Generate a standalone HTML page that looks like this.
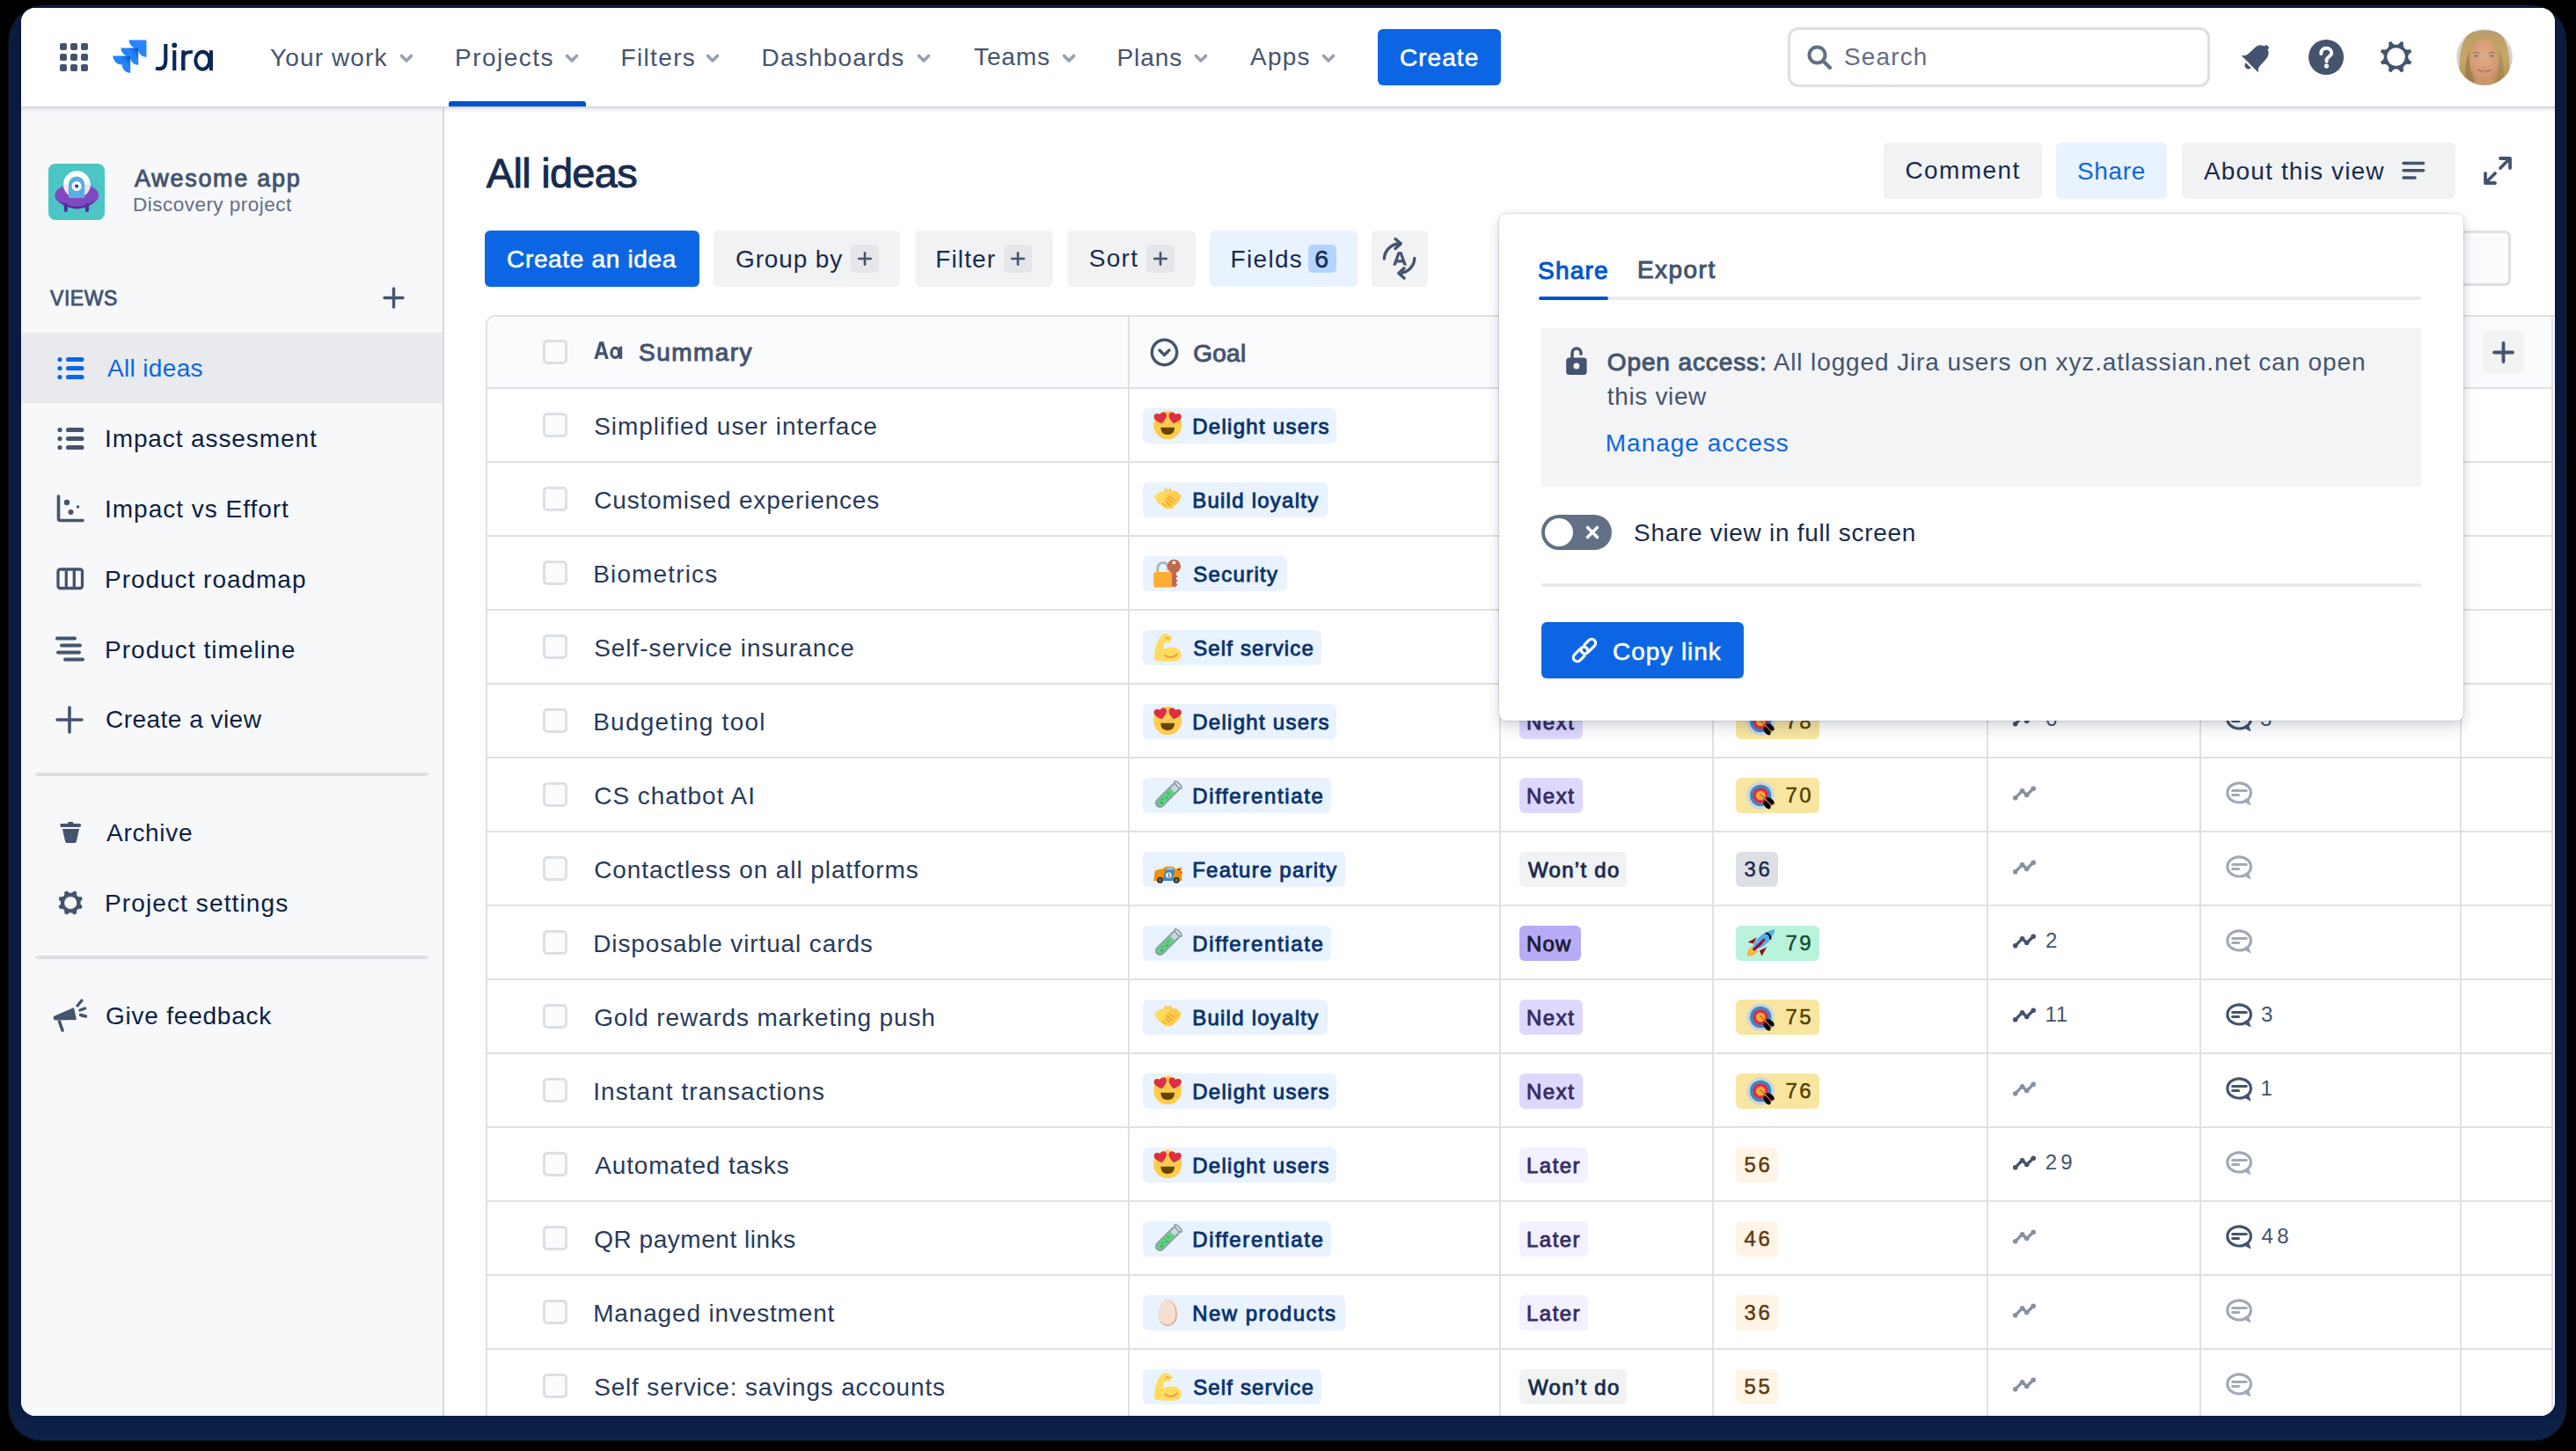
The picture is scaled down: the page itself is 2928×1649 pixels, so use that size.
<!DOCTYPE html>
<html><head><meta charset="utf-8"><title>All ideas - Jira</title>
<style>
html,body{margin:0;padding:0;background:#000;width:2928px;height:1649px;overflow:hidden}
.t{position:absolute;white-space:nowrap;font-family:"Liberation Sans", sans-serif}
svg{overflow:visible}
</style></head><body>
<div style="position:absolute;left:11px;top:7px;width:2905px;height:1629px;background:linear-gradient(#0A1A40 0%,#0A1A42 97%,#0E2349 100%);border-radius:40px 40px 36px 36px;box-shadow:0 0 1.5px 1px #11304c"></div><div id="win" style="position:absolute;left:0;top:0;width:2928px;height:1649px;clip-path:inset(9px 24px 40px 24px round 16px);background:#fff"><div style="position:absolute;left:24px;top:123px;width:479px;height:1500px;background:#F7F8F9"></div><div style="position:absolute;left:503px;top:123px;width:2px;height:1500px;background:#D5D8DE"></div><div style="position:absolute;left:24px;top:9px;width:2880px;height:112px;background:#fff"></div><div style="position:absolute;left:24px;top:121px;width:2880px;height:2px;background:#D5D8DD"></div><div style="position:absolute;left:24px;top:123px;width:2880px;height:6px;background:linear-gradient(#091e4214,#091e4200)"></div><svg style="position:absolute;left:68px;top:49px;" width="32" height="32" viewBox="0 0 32 32"><rect x="0" y="0" width="8" height="8" rx="2" fill="#44546F"/><rect x="12" y="0" width="8" height="8" rx="2" fill="#44546F"/><rect x="24" y="0" width="8" height="8" rx="2" fill="#44546F"/><rect x="0" y="12" width="8" height="8" rx="2" fill="#44546F"/><rect x="12" y="12" width="8" height="8" rx="2" fill="#44546F"/><rect x="24" y="12" width="8" height="8" rx="2" fill="#44546F"/><rect x="0" y="24" width="8" height="8" rx="2" fill="#44546F"/><rect x="12" y="24" width="8" height="8" rx="2" fill="#44546F"/><rect x="24" y="24" width="8" height="8" rx="2" fill="#44546F"/></svg><svg style="position:absolute;left:128px;top:45px;" width="40" height="40" viewBox="0 0 40 40"><defs><linearGradient id="jg" x1="1" y1="0" x2="0.3" y2="0.7"><stop offset="0" stop-color="#0052CC"/><stop offset="0.5" stop-color="#2684FF"/></linearGradient></defs><path transform="translate(18.5,0.5)" d="M0,0 H18.5 Q20,0 20,1.5 V19.5 A9.5,9.5 0 0 1 10.5,10 A10.5,10 0 0 1 0,0 Z" fill="#2684FF"/><path transform="translate(9.3,9.5)" d="M0,0 H18.5 Q20,0 20,1.5 V19.5 A9.5,9.5 0 0 1 10.5,10 A10.5,10 0 0 1 0,0 Z" fill="url(#jg)"/><path transform="translate(0.2,18.6)" d="M0,0 H18.5 Q20,0 20,1.5 V19.5 A9.5,9.5 0 0 1 10.5,10 A10.5,10 0 0 1 0,0 Z" fill="url(#jg)"/></svg><svg style="position:absolute;left:170px;top:45px;" width="80" height="40" viewBox="0 0 80 40"><g fill="none" stroke="#0A2756" stroke-width="4.1"><path d="M18.3 5 V23.5 C18.3 30.5 15.2 33.1 11.2 33.1 C9.5 33.1 8.2 32.8 7 32.3"/><path d="M38.3 35.1 V21 C38.3 16 41.5 14 48.9 14" stroke-width="3.9"/><ellipse cx="60.3" cy="23.8" rx="8" ry="9.9"/></g><g fill="#0A2756"><rect x="26.2" y="12.2" width="4.1" height="22.9"/><circle cx="28.3" cy="6.4" r="2.9"/><rect x="36.3" y="12.2" width="4.0" height="22.9"/><rect x="68" y="12.2" width="4" height="22.9"/></g></svg><div class="t" style="left:307.00px;top:52.10px;font-size:28px;line-height:28px;color:#44546F;font-weight:400;letter-spacing:1.125px;">Your work</div><svg style="position:absolute;left:454px;top:61px;" width="16" height="11" viewBox="0 0 16 11"><path d="M2.5 2.5 L8 8 L13.5 2.5" fill="none" stroke="#97A0AF" stroke-width="3.6" stroke-linecap="round" stroke-linejoin="round"/></svg><div class="t" style="left:517.00px;top:52.10px;font-size:28px;line-height:28px;color:#44546F;font-weight:400;letter-spacing:1.466px;">Projects</div><svg style="position:absolute;left:642px;top:61px;" width="16" height="11" viewBox="0 0 16 11"><path d="M2.5 2.5 L8 8 L13.5 2.5" fill="none" stroke="#97A0AF" stroke-width="3.6" stroke-linecap="round" stroke-linejoin="round"/></svg><div class="t" style="left:705.50px;top:52.10px;font-size:28px;line-height:28px;color:#44546F;font-weight:400;letter-spacing:1.350px;">Filters</div><svg style="position:absolute;left:802px;top:61px;" width="16" height="11" viewBox="0 0 16 11"><path d="M2.5 2.5 L8 8 L13.5 2.5" fill="none" stroke="#97A0AF" stroke-width="3.6" stroke-linecap="round" stroke-linejoin="round"/></svg><div class="t" style="left:865.50px;top:52.10px;font-size:28px;line-height:28px;color:#44546F;font-weight:400;letter-spacing:1.200px;">Dashboards</div><svg style="position:absolute;left:1042px;top:61px;" width="16" height="11" viewBox="0 0 16 11"><path d="M2.5 2.5 L8 8 L13.5 2.5" fill="none" stroke="#97A0AF" stroke-width="3.6" stroke-linecap="round" stroke-linejoin="round"/></svg><div class="t" style="left:1107.00px;top:51.05px;font-size:28px;line-height:28px;color:#44546F;font-weight:400;letter-spacing:0.900px;">Teams</div><svg style="position:absolute;left:1206.5px;top:61px;" width="16" height="11" viewBox="0 0 16 11"><path d="M2.5 2.5 L8 8 L13.5 2.5" fill="none" stroke="#97A0AF" stroke-width="3.6" stroke-linecap="round" stroke-linejoin="round"/></svg><div class="t" style="left:1269.50px;top:52.10px;font-size:28px;line-height:28px;color:#44546F;font-weight:400;letter-spacing:0.900px;">Plans</div><svg style="position:absolute;left:1356.5px;top:61px;" width="16" height="11" viewBox="0 0 16 11"><path d="M2.5 2.5 L8 8 L13.5 2.5" fill="none" stroke="#97A0AF" stroke-width="3.6" stroke-linecap="round" stroke-linejoin="round"/></svg><div class="t" style="left:1421.00px;top:51.05px;font-size:28px;line-height:28px;color:#44546F;font-weight:400;letter-spacing:1.200px;">Apps</div><svg style="position:absolute;left:1502px;top:61px;" width="16" height="11" viewBox="0 0 16 11"><path d="M2.5 2.5 L8 8 L13.5 2.5" fill="none" stroke="#97A0AF" stroke-width="3.6" stroke-linecap="round" stroke-linejoin="round"/></svg><div style="position:absolute;left:510px;top:115px;width:156px;height:6px;background:#0052CC;border-radius:3px 3px 0 0"></div><div style="position:absolute;left:1566px;top:33px;width:140px;height:64px;background:#0C66E4;border-radius:6px"></div><div class="t" style="left:1591.00px;top:52.10px;font-size:28px;line-height:28px;color:#fff;font-weight:400;letter-spacing:1.040px;-webkit-text-stroke:0.55px #fff;">Create</div><div style="position:absolute;left:2032px;top:31px;width:480px;height:68px;box-sizing:border-box;border:3.5px solid #DCDFE4;border-radius:12px;background:#fff"></div><svg style="position:absolute;left:2054px;top:51px;" width="29" height="29" viewBox="0 0 29 29"><circle cx="11.5" cy="11.5" r="9" fill="none" stroke="#626F86" stroke-width="4"/><path d="M18.5 18.5 L26 26" stroke="#626F86" stroke-width="4.2" stroke-linecap="round"/></svg><div class="t" style="left:2096.00px;top:50.90px;font-size:28px;line-height:28px;color:#626F86;font-weight:400;letter-spacing:1.140px;">Search</div><svg style="position:absolute;left:2544.5px;top:45px;" width="40" height="40" viewBox="0 0 40 40"><g transform="rotate(45 20 20)" fill="#44546F"><path d="M6.5 31 L9.8 27.5 Q10.8 24 10.8 16 Q10.8 4.8 20 4.8 Q29.2 4.8 29.2 16 Q29.2 24 30.2 27.5 L33.5 31 Z"/><circle cx="20" cy="4.6" r="2.8"/><path d="M15.8 33.2 A4.2 4.2 0 0 0 24.2 33.2 Z"/></g></svg><svg style="position:absolute;left:2624px;top:45px;" width="40" height="40" viewBox="0 0 40 40"><circle cx="20" cy="20" r="20" fill="#44546F"/><path d="M14.2 16 C14.2 12.3 16.8 9.8 20.2 9.8 C23.7 9.8 26.2 12.2 26.2 15.3 C26.2 18.8 21.3 19.4 20.5 22.8 V24.8" fill="none" stroke="#fff" stroke-width="4" stroke-linecap="round"/><circle cx="20.4" cy="30" r="2.6" fill="#fff"/></svg><svg style="position:absolute;left:2705px;top:46px;" width="37" height="37" viewBox="0 0 37 37"><mask id="gm1"><circle cx="18.5" cy="18.6" r="18.6" fill="#fff"/><circle cx="37.60" cy="18.60" r="5.4" fill="#000"/><circle cx="32.01" cy="32.11" r="5.4" fill="#000"/><circle cx="18.50" cy="37.70" r="5.4" fill="#000"/><circle cx="4.99" cy="32.11" r="5.4" fill="#000"/><circle cx="-0.60" cy="18.60" r="5.4" fill="#000"/><circle cx="4.99" cy="5.09" r="5.4" fill="#000"/><circle cx="18.50" cy="-0.50" r="5.4" fill="#000"/><circle cx="32.01" cy="5.09" r="5.4" fill="#000"/><circle cx="18.5" cy="18.6" r="10.3" fill="#000"/></mask><circle cx="18.5" cy="18.6" r="18.6" fill="#44546F" mask="url(#gm1)"/></svg><svg style="position:absolute;left:2792px;top:33px;" width="64" height="64" viewBox="0 0 64 64"><defs>
<linearGradient id="hairg" x1="0" y1="0" x2="0" y2="1"><stop offset="0" stop-color="#B99C6B"/><stop offset="0.5" stop-color="#C8A869"/><stop offset="1" stop-color="#B18D52"/></linearGradient>
<radialGradient id="faceg" cx="0.5" cy="0.42" r="0.6"><stop offset="0" stop-color="#E2AC88"/><stop offset="0.8" stop-color="#D49A74"/><stop offset="1" stop-color="#C98E68"/></radialGradient>
<clipPath id="avc"><circle cx="32" cy="32" r="31.8"/></clipPath></defs>
<g clip-path="url(#avc)"><rect width="64" height="64" fill="#D6D2CC"/>
<path d="M6 64 C1 44 3 16 14 6 C21 0 43 0 50 6 C61 16 63 44 58 64 Z" fill="url(#hairg)"/>
<path d="M11 64 C9 50 10 36 14 26 L19 30 C17 42 18 54 21 64 Z" fill="#8E6C3E" opacity="0.55"/>
<path d="M53 64 C55 50 54 36 50 26 L46 30 C48 42 47 54 44 64 Z" fill="#9A7A45" opacity="0.45"/>
<rect x="23" y="50" width="18" height="14" fill="#CF9570"/>
<path d="M15 29 C15 17 22 11.5 31.5 11.5 C41 11.5 48 17 48 29 L48 38 C48 50 40 58.5 31.5 58.5 C23 58.5 15 50 15 38 Z" fill="url(#faceg)"/>
<path d="M31.5 9 C24 9 17 14 15 26 C14 32 14.5 38 16.5 44 C16 34 18 22 25 15 C27.5 13 30 12 31.5 12 C33 12 36 13 38.5 15 C45 22 47 34 46.5 44 C48.5 38 49 32 48 26 C46 14 39 9 31.5 9 Z" fill="#C4A263"/>
<path d="M19 27.5 Q22.8 25.8 26.5 27.5 M36.5 27.5 Q40.2 25.8 44 27.5" stroke="#A27B52" stroke-width="1.1" fill="none"/>
<ellipse cx="22.8" cy="30.6" rx="2.4" ry="1.2" fill="#6C7780"/><ellipse cx="40.2" cy="30.6" rx="2.4" ry="1.2" fill="#6C7780"/>
<path d="M30 42.5 Q31.8 44 33.6 42.5" stroke="#B87A5C" stroke-width="1" fill="none"/>
<path d="M24.3 46.3 Q32 52 39.7 46.3 Q32 49.2 24.3 46.3 Z" fill="#F1E6DE" stroke="#A8604E" stroke-width="0.9"/>
</g></svg><svg style="position:absolute;left:55px;top:186px;" width="64" height="64" viewBox="0 0 64 64"><rect width="64" height="64" rx="8" fill="#4BC6C4"/>
<ellipse cx="32.3" cy="36" rx="25" ry="13.5" fill="#8049C2"/>
<path d="M12 42 Q32 56 52.5 42 Q48 50 32.3 51.5 Q17 50 12 42 Z" fill="#4F2B9C"/>
<rect x="17.8" y="45" width="4" height="10" rx="2" fill="#4F2B9C"/><rect x="42" y="45" width="4" height="10" rx="2" fill="#4F2B9C"/>
<circle cx="32.4" cy="23.5" r="15.3" fill="#fff"/>
<path d="M17.1 23.5 A15.3 15.3 0 0 0 47.7 23.5 Z" fill="#ECE3F5"/>
<path d="M23 39 V23.5 A9.1 9.1 0 0 1 41.2 23.5 V39 Z" fill="#5AAEE0"/>
<circle cx="32.1" cy="25.6" r="5.5" fill="#fff"/><circle cx="32.1" cy="25.6" r="2.1" fill="#1E4A86"/></svg><div class="t" style="left:153.00px;top:189.94px;font-size:27px;line-height:27px;color:#44546F;font-weight:400;letter-spacing:1.710px;-webkit-text-stroke:0.96px #44546F;">Awesome app</div><div class="t" style="left:151.00px;top:221.75px;font-size:22.5px;line-height:22.5px;color:#626F86;font-weight:400;letter-spacing:0.482px;">Discovery project</div><div class="t" style="left:57.00px;top:328.03px;font-size:23px;line-height:23px;color:#44546F;font-weight:400;letter-spacing:0.565px;-webkit-text-stroke:0.82px #44546F;">VIEWS</div><svg style="position:absolute;left:435px;top:326px;" width="25" height="25" viewBox="0 0 25 25"><path d="M12.5 2 V23 M2 12.5 H23" stroke="#44546F" stroke-width="3.4" stroke-linecap="round"/></svg><div style="position:absolute;left:24px;top:378px;width:479px;height:80px;background:#E9EAEE"></div><svg style="position:absolute;left:65px;top:406px;" width="31" height="26" viewBox="0 0 31 26"><circle cx="3" cy="2.5" r="2.6" fill="#0C66E4"/><rect x="10" y="-0.10000000000000009" width="20.5" height="5.2" rx="2.6" fill="#0C66E4"/><circle cx="3" cy="12.5" r="2.6" fill="#0C66E4"/><rect x="10" y="9.9" width="20.5" height="5.2" rx="2.6" fill="#0C66E4"/><circle cx="3" cy="22.5" r="2.6" fill="#0C66E4"/><rect x="10" y="19.9" width="20.5" height="5.2" rx="2.6" fill="#0C66E4"/></svg><div class="t" style="left:122.00px;top:405.10px;font-size:28px;line-height:28px;color:#0C66E4;font-weight:400;letter-spacing:0.338px;">All ideas</div><div class="t" style="left:119.00px;top:485.10px;font-size:28px;line-height:28px;color:#0B1F45;font-weight:400;letter-spacing:0.898px;">Impact assesment</div><div class="t" style="left:119.00px;top:565.10px;font-size:28px;line-height:28px;color:#0B1F45;font-weight:400;letter-spacing:0.994px;">Impact vs Effort</div><div class="t" style="left:119.00px;top:645.10px;font-size:28px;line-height:28px;color:#0B1F45;font-weight:400;letter-spacing:0.979px;">Product roadmap</div><div class="t" style="left:119.00px;top:725.10px;font-size:28px;line-height:28px;color:#0B1F45;font-weight:400;letter-spacing:1.030px;">Product timeline</div><div class="t" style="left:120.00px;top:804.10px;font-size:28px;line-height:28px;color:#0B1F45;font-weight:400;letter-spacing:0.475px;">Create a view</div><svg style="position:absolute;left:65px;top:486px;" width="31" height="26" viewBox="0 0 31 26"><circle cx="3" cy="2.5" r="2.6" fill="#44546F"/><rect x="10" y="-0.10000000000000009" width="20.5" height="5.2" rx="2.6" fill="#44546F"/><circle cx="3" cy="12.5" r="2.6" fill="#44546F"/><rect x="10" y="9.9" width="20.5" height="5.2" rx="2.6" fill="#44546F"/><circle cx="3" cy="22.5" r="2.6" fill="#44546F"/><rect x="10" y="19.9" width="20.5" height="5.2" rx="2.6" fill="#44546F"/></svg><svg style="position:absolute;left:64px;top:562px;" width="32" height="32" viewBox="0 0 32 32"><path d="M2.5 2 V27.5 Q2.5 29.5 4.5 29.5 H30" fill="none" stroke="#44546F" stroke-width="3.6" stroke-linecap="round"/><circle cx="12" cy="9" r="3.2" fill="#44546F"/><circle cx="16.5" cy="20" r="3" fill="#44546F"/><circle cx="24.5" cy="14" r="1.8" fill="#44546F"/></svg><svg style="position:absolute;left:64px;top:645px;" width="32" height="26" viewBox="0 0 32 26"><rect x="2" y="2" width="27.5" height="21.5" rx="2.5" fill="none" stroke="#44546F" stroke-width="3.3"/><path d="M11.3 3 V23 M20.3 3 V23" stroke="#44546F" stroke-width="3.3"/></svg><svg style="position:absolute;left:63px;top:723px;" width="34" height="30" viewBox="0 0 34 30"><path d="M2 2.5 H22 M7 10.5 H28 M3 18.5 H27 M11 26.5 H31" stroke="#44546F" stroke-width="4" stroke-linecap="round"/></svg><svg style="position:absolute;left:63px;top:802px;" width="32" height="32" viewBox="0 0 32 32"><path d="M16 2 V30 M2 16 H30" stroke="#44546F" stroke-width="3.6" stroke-linecap="round"/></svg><div style="position:absolute;left:40px;top:878px;width:447px;height:4px;background:#DCDFE4;border-radius:2px"></div><div style="position:absolute;left:40px;top:1086px;width:447px;height:4px;background:#DCDFE4;border-radius:2px"></div><div class="t" style="left:121.00px;top:933.10px;font-size:28px;line-height:28px;color:#0B1F45;font-weight:400;letter-spacing:0.700px;">Archive</div><svg style="position:absolute;left:66px;top:932px;" width="28" height="28" viewBox="0 0 28 28"><rect x="2.2" y="4" width="24" height="4" rx="2" fill="#44546F"/><path d="M10.7 5 L11.7 2 H16.9 L17.9 5 Z" fill="#44546F"/><path d="M4.9 10 H24.1 L20.8 24.6 Q20.5 26 19 26 H10 Q8.5 26 8.2 24.6 Z" fill="#44546F"/></svg><div class="t" style="left:119.00px;top:1013.10px;font-size:28px;line-height:28px;color:#0B1F45;font-weight:400;letter-spacing:1.114px;">Project settings</div><svg style="position:absolute;left:65px;top:1011px;" width="30" height="30" viewBox="0 0 30 30"><mask id="gm2"><circle cx="15.2" cy="15" r="14.2" fill="#fff"/><circle cx="30.20" cy="15.00" r="3.8" fill="#000"/><circle cx="25.81" cy="25.61" r="3.8" fill="#000"/><circle cx="15.20" cy="30.00" r="3.8" fill="#000"/><circle cx="4.59" cy="25.61" r="3.8" fill="#000"/><circle cx="0.20" cy="15.00" r="3.8" fill="#000"/><circle cx="4.59" cy="4.39" r="3.8" fill="#000"/><circle cx="15.20" cy="0.00" r="3.8" fill="#000"/><circle cx="25.81" cy="4.39" r="3.8" fill="#000"/><circle cx="15.2" cy="15" r="7.1" fill="#000"/></mask><circle cx="15.2" cy="15" r="14.2" fill="#44546F" mask="url(#gm2)"/></svg><div class="t" style="left:120.00px;top:1141.10px;font-size:28px;line-height:28px;color:#0B1F45;font-weight:400;letter-spacing:0.775px;">Give feedback</div><svg style="position:absolute;left:59px;top:1134px;" width="41" height="40" viewBox="0 0 41 40"><path d="M2 21 L25 11 L28 25 L4 25.5 Q1 25 2 21 Z" fill="#44546F"/><path d="M8.5 27 L12 37" stroke="#44546F" stroke-width="3.6" stroke-linecap="round"/><path d="M29 9 L34 3 M32 14 L37.5 12 M32.5 19.5 L38.5 21" stroke="#44546F" stroke-width="3.4" stroke-linecap="round"/></svg><div class="t" style="left:552.80px;top:173.01px;font-size:47px;line-height:47px;color:#172B4D;font-weight:400;letter-spacing:-0.720px;-webkit-text-stroke:0.92px #172B4D;">All ideas</div><div style="position:absolute;left:551px;top:262px;width:244px;height:64px;background:#0C66E4;border-radius:6px"></div><div class="t" style="left:576.00px;top:281.10px;font-size:28px;line-height:28px;color:#fff;font-weight:400;letter-spacing:0.669px;-webkit-text-stroke:0.55px #fff;">Create an idea</div><div style="position:absolute;left:811px;top:262px;width:212px;height:64px;background:#F1F2F4;border-radius:6px"></div><div class="t" style="left:836.00px;top:281.10px;font-size:28px;line-height:28px;color:#172B4D;font-weight:400;letter-spacing:0.874px;">Group by</div><div style="position:absolute;left:967px;top:278px;width:32px;height:32px;background:#E4E6EA;border-radius:5px"></div><svg style="position:absolute;left:974px;top:285px;" width="18" height="18" viewBox="0 0 18 18"><path d="M9 2.2 V15.8 M2.2 9 H15.8" stroke="#44546F" stroke-width="2.6" stroke-linecap="round"/></svg><div style="position:absolute;left:1040px;top:262px;width:157px;height:64px;background:#F1F2F4;border-radius:6px"></div><div class="t" style="left:1063.20px;top:281.10px;font-size:28px;line-height:28px;color:#172B4D;font-weight:400;letter-spacing:1.152px;">Filter</div><div style="position:absolute;left:1141px;top:278px;width:32px;height:32px;background:#E4E6EA;border-radius:5px"></div><svg style="position:absolute;left:1148px;top:285px;" width="18" height="18" viewBox="0 0 18 18"><path d="M9 2.2 V15.8 M2.2 9 H15.8" stroke="#44546F" stroke-width="2.6" stroke-linecap="round"/></svg><div style="position:absolute;left:1213px;top:262px;width:146px;height:64px;background:#F1F2F4;border-radius:6px"></div><div class="t" style="left:1237.80px;top:280.19px;font-size:28px;line-height:28px;color:#172B4D;font-weight:400;letter-spacing:1.260px;">Sort</div><div style="position:absolute;left:1303px;top:278px;width:32px;height:32px;background:#E4E6EA;border-radius:5px"></div><svg style="position:absolute;left:1310px;top:285px;" width="18" height="18" viewBox="0 0 18 18"><path d="M9 2.2 V15.8 M2.2 9 H15.8" stroke="#44546F" stroke-width="2.6" stroke-linecap="round"/></svg><div style="position:absolute;left:1375px;top:262px;width:168px;height:64px;background:#E9F2FF;border-radius:6px"></div><div class="t" style="left:1398.60px;top:281.10px;font-size:28px;line-height:28px;color:#172B4D;font-weight:400;letter-spacing:1.296px;">Fields</div><div style="position:absolute;left:1487px;top:278px;width:32px;height:32px;background:#B3D4FF;border-radius:5px"></div><div class="t" style="left:1494.30px;top:280.17px;font-size:28.5px;line-height:28.5px;color:#172B4D;font-weight:400;letter-spacing:0.000px;-webkit-text-stroke:0.56px #172B4D;">6</div><div style="position:absolute;left:1559px;top:262px;width:64px;height:64px;background:#F1F2F4;border-radius:6px"></div><svg style="position:absolute;left:1565px;top:265px;" width="50" height="56" viewBox="0 0 50 56"><g fill="none" stroke="#44546F" stroke-width="3.4" stroke-linecap="round" stroke-linejoin="round"><path d="M8.4 29 A17.5 17.5 0 0 1 26.6 12"/><path d="M21 6.5 L27.2 11.9 L21 17.6"/><path d="M42.8 28.5 A17.5 17.5 0 0 1 25.2 45.4"/><path d="M31 39.8 L24.8 45.4 L31 51"/></g><path fill-rule="evenodd" fill="#44546F" d="M18.1 36.6 L23.8 21.2 H28.4 L34.1 36.6 H30.4 L29.3 33.4 H22.9 L21.8 36.6 Z M23.9 30.3 H28.3 L26.1 24 Z"/></svg><div style="position:absolute;left:2141px;top:162px;width:180px;height:64px;background:#F1F2F4;border-radius:6px"></div><div class="t" style="left:2165.40px;top:180.20px;font-size:28px;line-height:28px;color:#172B4D;font-weight:400;letter-spacing:1.440px;">Comment</div><div style="position:absolute;left:2337px;top:162px;width:126px;height:64px;background:#E9F2FF;border-radius:6px"></div><div class="t" style="left:2361.00px;top:180.90px;font-size:28px;line-height:28px;color:#0C66E4;font-weight:400;letter-spacing:0.675px;">Share</div><div style="position:absolute;left:2480px;top:162px;width:311px;height:64px;background:#F1F2F4;border-radius:6px"></div><div class="t" style="left:2505.00px;top:180.90px;font-size:28px;line-height:28px;color:#172B4D;font-weight:400;letter-spacing:1.157px;">About this view</div><svg style="position:absolute;left:2730px;top:183px;" width="27" height="22" viewBox="0 0 27 22"><path d="M2 2.5 H24.5 M2 10.8 H24.5 M2 19 H15" stroke="#44546F" stroke-width="3.6" stroke-linecap="round"/></svg><svg style="position:absolute;left:2821px;top:176px;" width="36" height="36" viewBox="0 0 36 36"><path d="M21 4 H32 V15 M32 4 L21 15 M15 32 H4 V21 M4 32 L15 21" fill="none" stroke="#44546F" stroke-width="3.8" stroke-linecap="round" stroke-linejoin="round"/></svg><div style="position:absolute;left:2400px;top:262px;width:454px;height:63px;box-sizing:border-box;border:3px solid #DCDFE4;border-radius:7px;background:#FAFBFC"></div><div style="position:absolute;left:552px;top:358px;width:2372px;height:1300px;box-sizing:border-box;border:2px solid #DFE1E6;border-radius:11px 0 0 0;background:#fff"></div><div style="position:absolute;left:554px;top:360px;width:2348px;height:80px;background:#FAFBFC;border-radius:9px 0 0 0"></div><div style="position:absolute;left:1282px;top:358px;width:2px;height:1300px;background:#DFE1E6"></div><div style="position:absolute;left:1704px;top:358px;width:2px;height:1300px;background:#DFE1E6"></div><div style="position:absolute;left:1946px;top:358px;width:2px;height:1300px;background:#DFE1E6"></div><div style="position:absolute;left:2258px;top:358px;width:2px;height:1300px;background:#DFE1E6"></div><div style="position:absolute;left:2500px;top:358px;width:2px;height:1300px;background:#DFE1E6"></div><div style="position:absolute;left:2796px;top:358px;width:2px;height:1300px;background:#DFE1E6"></div><div style="position:absolute;left:2900px;top:358px;width:2px;height:1300px;background:#DFE1E6"></div><div style="position:absolute;left:552px;top:440px;width:2350px;height:2px;background:#DFE1E6"></div><div style="position:absolute;left:552px;top:524px;width:2350px;height:2px;background:#DFE1E6"></div><div style="position:absolute;left:552px;top:608px;width:2350px;height:2px;background:#DFE1E6"></div><div style="position:absolute;left:552px;top:692px;width:2350px;height:2px;background:#DFE1E6"></div><div style="position:absolute;left:552px;top:776px;width:2350px;height:2px;background:#DFE1E6"></div><div style="position:absolute;left:552px;top:860px;width:2350px;height:2px;background:#DFE1E6"></div><div style="position:absolute;left:552px;top:944px;width:2350px;height:2px;background:#DFE1E6"></div><div style="position:absolute;left:552px;top:1028px;width:2350px;height:2px;background:#DFE1E6"></div><div style="position:absolute;left:552px;top:1112px;width:2350px;height:2px;background:#DFE1E6"></div><div style="position:absolute;left:552px;top:1196px;width:2350px;height:2px;background:#DFE1E6"></div><div style="position:absolute;left:552px;top:1280px;width:2350px;height:2px;background:#DFE1E6"></div><div style="position:absolute;left:552px;top:1364px;width:2350px;height:2px;background:#DFE1E6"></div><div style="position:absolute;left:552px;top:1448px;width:2350px;height:2px;background:#DFE1E6"></div><div style="position:absolute;left:552px;top:1532px;width:2350px;height:2px;background:#DFE1E6"></div><div style="position:absolute;left:552px;top:1616px;width:2350px;height:2px;background:#DFE1E6"></div><div style="position:absolute;left:617px;top:386px;width:28px;height:28px;box-sizing:border-box;border:3.5px solid #DCDFE4;border-radius:5px;background:#FAFBFC"></div><svg style="position:absolute;left:672px;top:385px;" width="40" height="26" viewBox="0 0 40 26"><path fill-rule="evenodd" fill="#44546F" d="M3.4 23 L9.3 3.3 H14 L19.8 23 H16.1 L14.8 18.6 H8.4 L7.1 23 Z M9.4 15.3 H13.8 L11.6 7.4 Z"/><ellipse cx="27.3" cy="15.9" rx="4.3" ry="5.5" fill="none" stroke="#44546F" stroke-width="3.3"/><rect x="31.6" y="8.8" width="3.6" height="14.2" rx="0.8" fill="#44546F"/></svg><div class="t" style="left:726.00px;top:387.10px;font-size:28px;line-height:28px;color:#44546F;font-weight:400;letter-spacing:1.450px;-webkit-text-stroke:1.00px #44546F;">Summary</div><svg style="position:absolute;left:1306px;top:383px;" width="35" height="35" viewBox="0 0 35 35"><circle cx="17.5" cy="17.5" r="14.2" fill="none" stroke="#44546F" stroke-width="3.4"/><path d="M12 15 L17.5 20.5 L23 15" fill="none" stroke="#44546F" stroke-width="3.4" stroke-linecap="round" stroke-linejoin="round"/></svg><div class="t" style="left:1356.20px;top:387.60px;font-size:28px;line-height:28px;color:#44546F;font-weight:400;letter-spacing:0.280px;-webkit-text-stroke:1.00px #44546F;">Goal</div><div style="position:absolute;left:2821px;top:376px;width:48px;height:48px;background:#F1F2F4;border-radius:8px"></div><svg style="position:absolute;left:2833px;top:388px;" width="25" height="25" viewBox="0 0 25 25"><path d="M12.5 2 V23 M2 12.5 H23" stroke="#44546F" stroke-width="3.8" stroke-linecap="round"/></svg><div style="position:absolute;left:617px;top:469px;width:28px;height:28px;box-sizing:border-box;border:3.5px solid #DCDFE4;border-radius:5px;background:#FAFBFC"></div><div class="t" style="left:675.20px;top:471.10px;font-size:28px;line-height:28px;color:#283A5B;font-weight:400;letter-spacing:0.955px;">Simplified user interface</div><div style="position:absolute;left:1299px;top:464px;width:220px;height:40px;background:#E9F2FF;border-radius:6px"></div><svg style="position:absolute;left:1311px;top:467px;" width="32" height="32" viewBox="0 0 32 32"><circle cx="16.2" cy="16.1" r="16" fill="#FFCC4D"/>
<path d="M8.3 18.8 H24.1 Q24.1 27 16.2 27 Q8.3 27 8.3 18.8 Z" fill="#664500"/>
<g transform="rotate(-12 8 7)"><path d="M8 14.5 C3 11 0.5 8.5 0.8 5.3 C1.2 2 5.5 1 8 4 C10.5 1 14.8 2 15.2 5.3 C15.5 8.5 13 11 8 14.5 Z" fill="#DD2E44"/></g>
<g transform="rotate(12 24.5 7)"><path d="M24.5 14.5 C19.5 11 17 8.5 17.3 5.3 C17.7 2 22 1 24.5 4 C27 1 31.3 2 31.7 5.3 C32 8.5 29.5 11 24.5 14.5 Z" fill="#DD2E44"/></g></svg><div class="t" style="left:1355.20px;top:472.68px;font-size:24px;line-height:24px;color:#09326C;font-weight:400;letter-spacing:1.275px;-webkit-text-stroke:0.86px #09326C;">Delight users</div><div style="position:absolute;left:617px;top:553px;width:28px;height:28px;box-sizing:border-box;border:3.5px solid #DCDFE4;border-radius:5px;background:#FAFBFC"></div><div class="t" style="left:675.20px;top:555.10px;font-size:28px;line-height:28px;color:#283A5B;font-weight:400;letter-spacing:0.833px;">Customised experiences</div><div style="position:absolute;left:1299px;top:548px;width:210px;height:40px;background:#E9F2FF;border-radius:6px"></div><svg style="position:absolute;left:1311px;top:551px;" width="32" height="32" viewBox="0 0 32 32"><path d="M1 13 L6.5 8.5 Q9.5 7 12.5 8 L19 11 L23.5 17.5 L19.5 25.5 Q16.5 29 13.5 27 L5 20.5 Z" fill="#FFDB5E"/>
<path d="M31.8 12.5 L26.5 7.5 Q23.5 6 20.5 7.5 L14.5 10.5 L12 15 L15.5 24.5 Q19 29 22.5 25.5 L29.5 18.5 Z" fill="#FFCC4D"/>
<path d="M12.5 8.5 L14 4.3 L16.5 8 M16.5 8 L19 4.5 L20 8" fill="#FFCC4D" stroke="#FFCC4D" stroke-width="2" stroke-linejoin="round"/>
<path d="M13.5 18.5 L19 23 M15.5 15.5 L21.5 20.5 M17.5 12.8 L23.5 17.5 M10 21 L14.5 25" stroke="#F4900C" stroke-width="1.1" stroke-linecap="round" opacity="0.8"/></svg><div class="t" style="left:1355.20px;top:556.68px;font-size:24px;line-height:24px;color:#09326C;font-weight:400;letter-spacing:1.245px;-webkit-text-stroke:0.86px #09326C;">Build loyalty</div><div style="position:absolute;left:617px;top:637px;width:28px;height:28px;box-sizing:border-box;border:3.5px solid #DCDFE4;border-radius:5px;background:#FAFBFC"></div><div class="t" style="left:674.20px;top:639.10px;font-size:28px;line-height:28px;color:#283A5B;font-weight:400;letter-spacing:1.150px;">Biometrics</div><div style="position:absolute;left:1299px;top:632px;width:164px;height:40px;background:#E9F2FF;border-radius:6px"></div><svg style="position:absolute;left:1311px;top:635px;" width="32" height="32" viewBox="0 0 32 32"><path d="M4.8 16 V10.5 A6 6 0 0 1 16.8 10.5 V13" fill="none" stroke="#AAB8C2" stroke-width="3"/>
<rect x="0.3" y="15" width="21.2" height="17.6" rx="2.8" fill="#FFAC33"/>
<rect x="21" y="12" width="5" height="20" rx="1.5" fill="#C1694F"/><path d="M25.5 19 H27.3 V21 H25.5 Z M25.5 24 H27.3 V26 H25.5 Z M25.5 28.5 H27.3 V30.5 H25.5 Z" fill="#C1694F"/>
<circle cx="23.4" cy="8.5" r="7.7" fill="#C1694F"/><circle cx="23.4" cy="4.4" r="1.9" fill="#fff"/></svg><div class="t" style="left:1356.20px;top:640.68px;font-size:24px;line-height:24px;color:#09326C;font-weight:400;letter-spacing:1.316px;-webkit-text-stroke:0.86px #09326C;">Security</div><div style="position:absolute;left:617px;top:721px;width:28px;height:28px;box-sizing:border-box;border:3.5px solid #DCDFE4;border-radius:5px;background:#FAFBFC"></div><div class="t" style="left:675.20px;top:723.10px;font-size:28px;line-height:28px;color:#283A5B;font-weight:400;letter-spacing:0.961px;">Self-service insurance</div><div style="position:absolute;left:1299px;top:716px;width:203px;height:40px;background:#E9F2FF;border-radius:6px"></div><svg style="position:absolute;left:1311px;top:719px;" width="32" height="32" viewBox="0 0 32 32"><path d="M1.5 31.5 Q0.5 20 4 12 Q7 4 12 1.5 Q15 0.5 18 3 L21.5 5.5 Q21.8 8.5 19 9 L19.5 10.5 Q18 11.8 15.5 10.8 L12.3 12 Q11 16 11.6 19.5 Q15 16.2 22 16.5 Q31.5 17.5 31.8 25 Q31.8 32.5 22 32.8 Q12 33 1.5 31.5 Z" fill="#FFDC5D"/>
<path d="M13 25.5 Q20 31 27.2 24.5" fill="none" stroke="#EF9645" stroke-width="1.7" stroke-linecap="round"/>
<path d="M14.5 5.5 Q16.5 7.8 18.5 6.3" fill="none" stroke="#EF9645" stroke-width="1.2" stroke-linecap="round"/></svg><div class="t" style="left:1356.20px;top:724.68px;font-size:24px;line-height:24px;color:#09326C;font-weight:400;letter-spacing:1.143px;-webkit-text-stroke:0.86px #09326C;">Self service</div><div style="position:absolute;left:617px;top:805px;width:28px;height:28px;box-sizing:border-box;border:3.5px solid #DCDFE4;border-radius:5px;background:#FAFBFC"></div><div class="t" style="left:674.20px;top:807.10px;font-size:28px;line-height:28px;color:#283A5B;font-weight:400;letter-spacing:1.252px;">Budgeting tool</div><div style="position:absolute;left:1299px;top:800px;width:220px;height:40px;background:#E9F2FF;border-radius:6px"></div><svg style="position:absolute;left:1311px;top:803px;" width="32" height="32" viewBox="0 0 32 32"><circle cx="16.2" cy="16.1" r="16" fill="#FFCC4D"/>
<path d="M8.3 18.8 H24.1 Q24.1 27 16.2 27 Q8.3 27 8.3 18.8 Z" fill="#664500"/>
<g transform="rotate(-12 8 7)"><path d="M8 14.5 C3 11 0.5 8.5 0.8 5.3 C1.2 2 5.5 1 8 4 C10.5 1 14.8 2 15.2 5.3 C15.5 8.5 13 11 8 14.5 Z" fill="#DD2E44"/></g>
<g transform="rotate(12 24.5 7)"><path d="M24.5 14.5 C19.5 11 17 8.5 17.3 5.3 C17.7 2 22 1 24.5 4 C27 1 31.3 2 31.7 5.3 C32 8.5 29.5 11 24.5 14.5 Z" fill="#DD2E44"/></g></svg><div class="t" style="left:1355.20px;top:808.68px;font-size:24px;line-height:24px;color:#09326C;font-weight:400;letter-spacing:1.275px;-webkit-text-stroke:0.86px #09326C;">Delight users</div><div style="position:absolute;left:1727px;top:800px;width:72px;height:40px;background:#DFD8FD;border-radius:6px"></div><div class="t" style="left:1735.00px;top:808.68px;font-size:24px;line-height:24px;color:#352C63;font-weight:400;letter-spacing:1.530px;-webkit-text-stroke:0.86px #352C63;">Next</div><div style="position:absolute;left:1973px;top:800px;width:95px;height:40px;background:#F8E6A0;border-radius:6px"></div><svg style="position:absolute;left:1985px;top:803px;" width="32" height="32" viewBox="0 0 32 32"><circle cx="16.2" cy="17" r="15.8" fill="#CCD6DD"/><circle cx="16.2" cy="17" r="12.2" fill="#3B88C3"/>
<circle cx="16.2" cy="17" r="8.8" fill="#DD2E44"/><circle cx="16.2" cy="17" r="5.3" fill="#FFAC33"/>
<path d="M15.5 15.3 L28.6 28.5" stroke="#C1694F" stroke-width="1.6"/>
<ellipse cx="27" cy="23.3" rx="5.6" ry="3" fill="#000" transform="rotate(38 27 23.3)"/>
<ellipse cx="23.5" cy="27.6" rx="5.6" ry="3" fill="#000" transform="rotate(52 23.5 27.6)"/>
<path d="M20 19.8 L29 29" stroke="#C1694F" stroke-width="1.3"/></svg><div class="t" style="left:2029.40px;top:807.98px;font-size:24px;line-height:24px;color:#533F04;font-weight:400;letter-spacing:2.580px;-webkit-text-stroke:0.47px #533F04;">78</div><svg style="position:absolute;left:2287px;top:809px;" width="28" height="20" viewBox="0 0 28 20"><path d="M3.7 13.8 L11.6 5.7 L16.7 10.5 L24.2 3.2" fill="none" stroke="#44546F" stroke-width="3.3" stroke-linecap="round" stroke-linejoin="round"/><circle cx="3.7" cy="13.8" r="2.8" fill="#44546F"/><circle cx="11.6" cy="5.7" r="2.8" fill="#44546F"/><circle cx="16.7" cy="10.5" r="2.8" fill="#44546F"/><circle cx="24.2" cy="3.2" r="2.8" fill="#44546F"/></svg><div class="t" style="left:2325.00px;top:805.48px;font-size:24px;line-height:24px;color:#44546F;font-weight:400;letter-spacing:0.600px;">6</div><svg style="position:absolute;left:2529px;top:804px;" width="34" height="30" viewBox="0 0 34 30"><ellipse cx="16.1" cy="12.9" rx="13.3" ry="11.1" fill="none" stroke="#44546F" stroke-width="3.2"/><path d="M21 22.5 L29 26.8 L26.2 19.5 Z" fill="#44546F" stroke="#44546F" stroke-width="1" stroke-linejoin="round"/><path d="M8.6 10.5 H24.3 M8.6 15.5 H15.6" stroke="#44546F" stroke-width="3" stroke-linecap="round"/></svg><div class="t" style="left:2569.00px;top:805.48px;font-size:24px;line-height:24px;color:#44546F;font-weight:400;letter-spacing:0.600px;">3</div><div style="position:absolute;left:617px;top:889px;width:28px;height:28px;box-sizing:border-box;border:3.5px solid #DCDFE4;border-radius:5px;background:#FAFBFC"></div><div class="t" style="left:675.20px;top:891.10px;font-size:28px;line-height:28px;color:#283A5B;font-weight:400;letter-spacing:0.970px;">CS chatbot AI</div><div style="position:absolute;left:1299px;top:884px;width:214px;height:40px;background:#E9F2FF;border-radius:6px"></div><svg style="position:absolute;left:1311px;top:887px;" width="32" height="32" viewBox="0 0 32 32"><g transform="rotate(45 16.2 16.8)"><rect x="10.7" y="-1" width="11" height="35.5" rx="5.5" fill="#8899A6"/>
<rect x="12.7" y="0.5" width="7" height="31.5" rx="3.5" fill="#CCD6DD"/>
<path d="M12.7 9 H19.7 V28.5 A3.5 3.5 0 0 1 12.7 28.5 Z" fill="#5DD07B"/>
<ellipse cx="16.2" cy="0" rx="5.5" ry="1.8" fill="#E1E8ED" stroke="#8899A6" stroke-width="1.6"/>
<circle cx="15" cy="15" r="1" fill="#2EA84F"/><circle cx="17.5" cy="19.5" r="1.1" fill="#2EA84F"/><circle cx="15.2" cy="24" r="1" fill="#2EA84F"/><circle cx="17.3" cy="27.5" r="1.3" fill="#2EA84F"/></g></svg><div class="t" style="left:1355.20px;top:892.68px;font-size:24px;line-height:24px;color:#09326C;font-weight:400;letter-spacing:1.650px;-webkit-text-stroke:0.86px #09326C;">Differentiate</div><div style="position:absolute;left:1727px;top:884px;width:72px;height:40px;background:#DFD8FD;border-radius:6px"></div><div class="t" style="left:1735.00px;top:892.68px;font-size:24px;line-height:24px;color:#352C63;font-weight:400;letter-spacing:1.530px;-webkit-text-stroke:0.86px #352C63;">Next</div><div style="position:absolute;left:1973px;top:884px;width:95px;height:40px;background:#F8E6A0;border-radius:6px"></div><svg style="position:absolute;left:1985px;top:887px;" width="32" height="32" viewBox="0 0 32 32"><circle cx="16.2" cy="17" r="15.8" fill="#CCD6DD"/><circle cx="16.2" cy="17" r="12.2" fill="#3B88C3"/>
<circle cx="16.2" cy="17" r="8.8" fill="#DD2E44"/><circle cx="16.2" cy="17" r="5.3" fill="#FFAC33"/>
<path d="M15.5 15.3 L28.6 28.5" stroke="#C1694F" stroke-width="1.6"/>
<ellipse cx="27" cy="23.3" rx="5.6" ry="3" fill="#000" transform="rotate(38 27 23.3)"/>
<ellipse cx="23.5" cy="27.6" rx="5.6" ry="3" fill="#000" transform="rotate(52 23.5 27.6)"/>
<path d="M20 19.8 L29 29" stroke="#C1694F" stroke-width="1.3"/></svg><div class="t" style="left:2029.40px;top:891.98px;font-size:24px;line-height:24px;color:#533F04;font-weight:400;letter-spacing:2.580px;-webkit-text-stroke:0.47px #533F04;">70</div><svg style="position:absolute;left:2287px;top:893px;" width="28" height="20" viewBox="0 0 28 20"><path d="M3.7 13.8 L11.6 5.7 L16.7 10.5 L24.2 3.2" fill="none" stroke="#8590A2" stroke-width="3.3" stroke-linecap="round" stroke-linejoin="round"/><circle cx="3.7" cy="13.8" r="2.8" fill="#8590A2"/><circle cx="11.6" cy="5.7" r="2.8" fill="#8590A2"/><circle cx="16.7" cy="10.5" r="2.8" fill="#8590A2"/><circle cx="24.2" cy="3.2" r="2.8" fill="#8590A2"/></svg><svg style="position:absolute;left:2529px;top:888px;" width="34" height="30" viewBox="0 0 34 30"><ellipse cx="16.1" cy="12.9" rx="13.3" ry="11.1" fill="none" stroke="#A1A9B8" stroke-width="3.2"/><path d="M21 22.5 L29 26.8 L26.2 19.5 Z" fill="#A1A9B8" stroke="#A1A9B8" stroke-width="1" stroke-linejoin="round"/><path d="M8.6 10.5 H24.3 M8.6 15.5 H15.6" stroke="#A1A9B8" stroke-width="3" stroke-linecap="round"/></svg><div style="position:absolute;left:617px;top:973px;width:28px;height:28px;box-sizing:border-box;border:3.5px solid #DCDFE4;border-radius:5px;background:#FAFBFC"></div><div class="t" style="left:675.20px;top:975.10px;font-size:28px;line-height:28px;color:#283A5B;font-weight:400;letter-spacing:0.910px;">Contactless on all platforms</div><div style="position:absolute;left:1299px;top:968px;width:230px;height:40px;background:#E9F2FF;border-radius:6px"></div><svg style="position:absolute;left:1311px;top:971px;" width="32" height="32" viewBox="0 0 32 32"><path d="M0.2 30 L1.5 19.5 Q2 18 4 17.5 L10 16.5 L14.5 13.8 H22.5 L25.5 17 H31 L32.3 19 V30 Z" fill="#F4900C"/>
<path d="M13.8 17.5 L16 15.2 H22 L22.3 17.5 Z" fill="#8CCAF7"/>
<path d="M13.5 17.5 H24.5 L21.5 30 H10.5 Z" fill="#3B88C3"/>
<circle cx="17.4" cy="23.8" r="3.2" fill="#fff"/><path d="M16.3 22.2 Q18.6 21.6 18.3 23.6 Q16.8 24 18.4 24.6 Q18.4 26.3 16.3 25.6" fill="none" stroke="#292F33" stroke-width="0.9"/>
<path d="M26 16.2 L32.6 14.5 L32.2 16.8 L27 17.6 Z" fill="#F4900C"/><rect x="27.5" y="16.6" width="2.5" height="1.3" fill="#292F33"/>
<circle cx="7.5" cy="29.2" r="3.5" fill="#292F33"/><circle cx="26.2" cy="29.2" r="3.5" fill="#292F33"/>
<circle cx="7.5" cy="29.2" r="1.7" fill="#66757F"/><circle cx="26.2" cy="29.2" r="1.7" fill="#66757F"/>
<rect x="31.2" y="19.5" width="1.2" height="2.5" fill="#DD2E44"/></svg><div class="t" style="left:1355.20px;top:976.68px;font-size:24px;line-height:24px;color:#09326C;font-weight:400;letter-spacing:1.221px;-webkit-text-stroke:0.86px #09326C;">Feature parity</div><div style="position:absolute;left:1727px;top:968px;width:122px;height:40px;background:#F1F2F4;border-radius:6px"></div><div class="t" style="left:1737.00px;top:976.68px;font-size:24px;line-height:24px;color:#172B4D;font-weight:400;letter-spacing:1.290px;-webkit-text-stroke:0.86px #172B4D;">Won&#8217;t do</div><div style="position:absolute;left:1973px;top:968px;width:48px;height:40px;background:#DCDFE4;border-radius:6px"></div><div class="t" style="left:1982.60px;top:975.98px;font-size:24px;line-height:24px;color:#172B4D;font-weight:400;letter-spacing:2.490px;-webkit-text-stroke:0.47px #172B4D;">36</div><svg style="position:absolute;left:2287px;top:977px;" width="28" height="20" viewBox="0 0 28 20"><path d="M3.7 13.8 L11.6 5.7 L16.7 10.5 L24.2 3.2" fill="none" stroke="#8590A2" stroke-width="3.3" stroke-linecap="round" stroke-linejoin="round"/><circle cx="3.7" cy="13.8" r="2.8" fill="#8590A2"/><circle cx="11.6" cy="5.7" r="2.8" fill="#8590A2"/><circle cx="16.7" cy="10.5" r="2.8" fill="#8590A2"/><circle cx="24.2" cy="3.2" r="2.8" fill="#8590A2"/></svg><svg style="position:absolute;left:2529px;top:972px;" width="34" height="30" viewBox="0 0 34 30"><ellipse cx="16.1" cy="12.9" rx="13.3" ry="11.1" fill="none" stroke="#A1A9B8" stroke-width="3.2"/><path d="M21 22.5 L29 26.8 L26.2 19.5 Z" fill="#A1A9B8" stroke="#A1A9B8" stroke-width="1" stroke-linejoin="round"/><path d="M8.6 10.5 H24.3 M8.6 15.5 H15.6" stroke="#A1A9B8" stroke-width="3" stroke-linecap="round"/></svg><div style="position:absolute;left:617px;top:1057px;width:28px;height:28px;box-sizing:border-box;border:3.5px solid #DCDFE4;border-radius:5px;background:#FAFBFC"></div><div class="t" style="left:674.20px;top:1059.10px;font-size:28px;line-height:28px;color:#283A5B;font-weight:400;letter-spacing:0.889px;">Disposable virtual cards</div><div style="position:absolute;left:1299px;top:1052px;width:214px;height:40px;background:#E9F2FF;border-radius:6px"></div><svg style="position:absolute;left:1311px;top:1055px;" width="32" height="32" viewBox="0 0 32 32"><g transform="rotate(45 16.2 16.8)"><rect x="10.7" y="-1" width="11" height="35.5" rx="5.5" fill="#8899A6"/>
<rect x="12.7" y="0.5" width="7" height="31.5" rx="3.5" fill="#CCD6DD"/>
<path d="M12.7 9 H19.7 V28.5 A3.5 3.5 0 0 1 12.7 28.5 Z" fill="#5DD07B"/>
<ellipse cx="16.2" cy="0" rx="5.5" ry="1.8" fill="#E1E8ED" stroke="#8899A6" stroke-width="1.6"/>
<circle cx="15" cy="15" r="1" fill="#2EA84F"/><circle cx="17.5" cy="19.5" r="1.1" fill="#2EA84F"/><circle cx="15.2" cy="24" r="1" fill="#2EA84F"/><circle cx="17.3" cy="27.5" r="1.3" fill="#2EA84F"/></g></svg><div class="t" style="left:1355.20px;top:1060.68px;font-size:24px;line-height:24px;color:#09326C;font-weight:400;letter-spacing:1.650px;-webkit-text-stroke:0.86px #09326C;">Differentiate</div><div style="position:absolute;left:1727px;top:1052px;width:70px;height:40px;background:#B8ACF6;border-radius:6px"></div><div class="t" style="left:1735.00px;top:1060.68px;font-size:24px;line-height:24px;color:#1C1B33;font-weight:400;letter-spacing:1.110px;-webkit-text-stroke:0.86px #1C1B33;">Now</div><div style="position:absolute;left:1973px;top:1052px;width:95px;height:40px;background:#BAF3DB;border-radius:6px"></div><svg style="position:absolute;left:1985px;top:1055px;" width="32" height="32" viewBox="0 0 32 32"><path d="M1.2 31.7 Q1 23.5 7 20.5 L13 25.5 Q10 31.5 1.2 31.7 Z" fill="#FFAC33"/>
<path d="M4.5 28 Q4.8 24 8 22.5 L11 25 Q9 28.2 4.5 28 Z" fill="#FFCC4D"/>
<path d="M1.7 15.7 L11.9 10.3 L8.1 17.6 Z" fill="#A0041E"/><path d="M15 25.3 L23.3 21.2 L17.4 31.4 Z" fill="#A0041E"/>
<path d="M32.4 1.2 C31 10 23 21 9.5 24.5 Q6.5 25.3 7 22.3 C10 11 21 3 32.4 1.2 Z" fill="#55ACEE"/>
<path d="M7.8 25 L20.7 12.4 L17 19 Z" fill="#A0041E"/><path d="M7.8 25 L20.7 12.4" stroke="#A0041E" stroke-width="2.6"/>
<path d="M22.6 5.8 Q26.6 5.6 27.4 11.6" stroke="#000" stroke-width="2.1" fill="none" stroke-linecap="round"/></svg><div class="t" style="left:2029.40px;top:1059.98px;font-size:24px;line-height:24px;color:#164B35;font-weight:400;letter-spacing:2.580px;-webkit-text-stroke:0.47px #164B35;">79</div><svg style="position:absolute;left:2287px;top:1061px;" width="28" height="20" viewBox="0 0 28 20"><path d="M3.7 13.8 L11.6 5.7 L16.7 10.5 L24.2 3.2" fill="none" stroke="#44546F" stroke-width="3.3" stroke-linecap="round" stroke-linejoin="round"/><circle cx="3.7" cy="13.8" r="2.8" fill="#44546F"/><circle cx="11.6" cy="5.7" r="2.8" fill="#44546F"/><circle cx="16.7" cy="10.5" r="2.8" fill="#44546F"/><circle cx="24.2" cy="3.2" r="2.8" fill="#44546F"/></svg><div class="t" style="left:2325.00px;top:1057.48px;font-size:24px;line-height:24px;color:#44546F;font-weight:400;letter-spacing:3.300px;">2</div><svg style="position:absolute;left:2529px;top:1056px;" width="34" height="30" viewBox="0 0 34 30"><ellipse cx="16.1" cy="12.9" rx="13.3" ry="11.1" fill="none" stroke="#A1A9B8" stroke-width="3.2"/><path d="M21 22.5 L29 26.8 L26.2 19.5 Z" fill="#A1A9B8" stroke="#A1A9B8" stroke-width="1" stroke-linejoin="round"/><path d="M8.6 10.5 H24.3 M8.6 15.5 H15.6" stroke="#A1A9B8" stroke-width="3" stroke-linecap="round"/></svg><div style="position:absolute;left:617px;top:1141px;width:28px;height:28px;box-sizing:border-box;border:3.5px solid #DCDFE4;border-radius:5px;background:#FAFBFC"></div><div class="t" style="left:675.20px;top:1143.10px;font-size:28px;line-height:28px;color:#283A5B;font-weight:400;letter-spacing:0.843px;">Gold rewards marketing push</div><div style="position:absolute;left:1299px;top:1136px;width:210px;height:40px;background:#E9F2FF;border-radius:6px"></div><svg style="position:absolute;left:1311px;top:1139px;" width="32" height="32" viewBox="0 0 32 32"><path d="M1 13 L6.5 8.5 Q9.5 7 12.5 8 L19 11 L23.5 17.5 L19.5 25.5 Q16.5 29 13.5 27 L5 20.5 Z" fill="#FFDB5E"/>
<path d="M31.8 12.5 L26.5 7.5 Q23.5 6 20.5 7.5 L14.5 10.5 L12 15 L15.5 24.5 Q19 29 22.5 25.5 L29.5 18.5 Z" fill="#FFCC4D"/>
<path d="M12.5 8.5 L14 4.3 L16.5 8 M16.5 8 L19 4.5 L20 8" fill="#FFCC4D" stroke="#FFCC4D" stroke-width="2" stroke-linejoin="round"/>
<path d="M13.5 18.5 L19 23 M15.5 15.5 L21.5 20.5 M17.5 12.8 L23.5 17.5 M10 21 L14.5 25" stroke="#F4900C" stroke-width="1.1" stroke-linecap="round" opacity="0.8"/></svg><div class="t" style="left:1355.20px;top:1144.68px;font-size:24px;line-height:24px;color:#09326C;font-weight:400;letter-spacing:1.245px;-webkit-text-stroke:0.86px #09326C;">Build loyalty</div><div style="position:absolute;left:1727px;top:1136px;width:72px;height:40px;background:#DFD8FD;border-radius:6px"></div><div class="t" style="left:1735.00px;top:1144.68px;font-size:24px;line-height:24px;color:#352C63;font-weight:400;letter-spacing:1.530px;-webkit-text-stroke:0.86px #352C63;">Next</div><div style="position:absolute;left:1973px;top:1136px;width:95px;height:40px;background:#F8E6A0;border-radius:6px"></div><svg style="position:absolute;left:1985px;top:1139px;" width="32" height="32" viewBox="0 0 32 32"><circle cx="16.2" cy="17" r="15.8" fill="#CCD6DD"/><circle cx="16.2" cy="17" r="12.2" fill="#3B88C3"/>
<circle cx="16.2" cy="17" r="8.8" fill="#DD2E44"/><circle cx="16.2" cy="17" r="5.3" fill="#FFAC33"/>
<path d="M15.5 15.3 L28.6 28.5" stroke="#C1694F" stroke-width="1.6"/>
<ellipse cx="27" cy="23.3" rx="5.6" ry="3" fill="#000" transform="rotate(38 27 23.3)"/>
<ellipse cx="23.5" cy="27.6" rx="5.6" ry="3" fill="#000" transform="rotate(52 23.5 27.6)"/>
<path d="M20 19.8 L29 29" stroke="#C1694F" stroke-width="1.3"/></svg><div class="t" style="left:2029.40px;top:1143.98px;font-size:24px;line-height:24px;color:#533F04;font-weight:400;letter-spacing:2.580px;-webkit-text-stroke:0.47px #533F04;">75</div><svg style="position:absolute;left:2287px;top:1145px;" width="28" height="20" viewBox="0 0 28 20"><path d="M3.7 13.8 L11.6 5.7 L16.7 10.5 L24.2 3.2" fill="none" stroke="#44546F" stroke-width="3.3" stroke-linecap="round" stroke-linejoin="round"/><circle cx="3.7" cy="13.8" r="2.8" fill="#44546F"/><circle cx="11.6" cy="5.7" r="2.8" fill="#44546F"/><circle cx="16.7" cy="10.5" r="2.8" fill="#44546F"/><circle cx="24.2" cy="3.2" r="2.8" fill="#44546F"/></svg><div class="t" style="left:2324.60px;top:1141.48px;font-size:24px;line-height:24px;color:#44546F;font-weight:400;letter-spacing:0.600px;">11</div><svg style="position:absolute;left:2529px;top:1140px;" width="34" height="30" viewBox="0 0 34 30"><ellipse cx="16.1" cy="12.9" rx="13.3" ry="11.1" fill="none" stroke="#44546F" stroke-width="3.2"/><path d="M21 22.5 L29 26.8 L26.2 19.5 Z" fill="#44546F" stroke="#44546F" stroke-width="1" stroke-linejoin="round"/><path d="M8.6 10.5 H24.3 M8.6 15.5 H15.6" stroke="#44546F" stroke-width="3" stroke-linecap="round"/></svg><div class="t" style="left:2570.00px;top:1141.48px;font-size:24px;line-height:24px;color:#44546F;font-weight:400;letter-spacing:1.680px;">3</div><div style="position:absolute;left:617px;top:1225px;width:28px;height:28px;box-sizing:border-box;border:3.5px solid #DCDFE4;border-radius:5px;background:#FAFBFC"></div><div class="t" style="left:674.20px;top:1227.10px;font-size:28px;line-height:28px;color:#283A5B;font-weight:400;letter-spacing:1.058px;">Instant transactions</div><div style="position:absolute;left:1299px;top:1220px;width:220px;height:40px;background:#E9F2FF;border-radius:6px"></div><svg style="position:absolute;left:1311px;top:1223px;" width="32" height="32" viewBox="0 0 32 32"><circle cx="16.2" cy="16.1" r="16" fill="#FFCC4D"/>
<path d="M8.3 18.8 H24.1 Q24.1 27 16.2 27 Q8.3 27 8.3 18.8 Z" fill="#664500"/>
<g transform="rotate(-12 8 7)"><path d="M8 14.5 C3 11 0.5 8.5 0.8 5.3 C1.2 2 5.5 1 8 4 C10.5 1 14.8 2 15.2 5.3 C15.5 8.5 13 11 8 14.5 Z" fill="#DD2E44"/></g>
<g transform="rotate(12 24.5 7)"><path d="M24.5 14.5 C19.5 11 17 8.5 17.3 5.3 C17.7 2 22 1 24.5 4 C27 1 31.3 2 31.7 5.3 C32 8.5 29.5 11 24.5 14.5 Z" fill="#DD2E44"/></g></svg><div class="t" style="left:1355.20px;top:1228.68px;font-size:24px;line-height:24px;color:#09326C;font-weight:400;letter-spacing:1.275px;-webkit-text-stroke:0.86px #09326C;">Delight users</div><div style="position:absolute;left:1727px;top:1220px;width:72px;height:40px;background:#DFD8FD;border-radius:6px"></div><div class="t" style="left:1735.00px;top:1228.68px;font-size:24px;line-height:24px;color:#352C63;font-weight:400;letter-spacing:1.530px;-webkit-text-stroke:0.86px #352C63;">Next</div><div style="position:absolute;left:1973px;top:1220px;width:95px;height:40px;background:#F8E6A0;border-radius:6px"></div><svg style="position:absolute;left:1985px;top:1223px;" width="32" height="32" viewBox="0 0 32 32"><circle cx="16.2" cy="17" r="15.8" fill="#CCD6DD"/><circle cx="16.2" cy="17" r="12.2" fill="#3B88C3"/>
<circle cx="16.2" cy="17" r="8.8" fill="#DD2E44"/><circle cx="16.2" cy="17" r="5.3" fill="#FFAC33"/>
<path d="M15.5 15.3 L28.6 28.5" stroke="#C1694F" stroke-width="1.6"/>
<ellipse cx="27" cy="23.3" rx="5.6" ry="3" fill="#000" transform="rotate(38 27 23.3)"/>
<ellipse cx="23.5" cy="27.6" rx="5.6" ry="3" fill="#000" transform="rotate(52 23.5 27.6)"/>
<path d="M20 19.8 L29 29" stroke="#C1694F" stroke-width="1.3"/></svg><div class="t" style="left:2029.40px;top:1227.98px;font-size:24px;line-height:24px;color:#533F04;font-weight:400;letter-spacing:2.580px;-webkit-text-stroke:0.47px #533F04;">76</div><svg style="position:absolute;left:2287px;top:1229px;" width="28" height="20" viewBox="0 0 28 20"><path d="M3.7 13.8 L11.6 5.7 L16.7 10.5 L24.2 3.2" fill="none" stroke="#8590A2" stroke-width="3.3" stroke-linecap="round" stroke-linejoin="round"/><circle cx="3.7" cy="13.8" r="2.8" fill="#8590A2"/><circle cx="11.6" cy="5.7" r="2.8" fill="#8590A2"/><circle cx="16.7" cy="10.5" r="2.8" fill="#8590A2"/><circle cx="24.2" cy="3.2" r="2.8" fill="#8590A2"/></svg><svg style="position:absolute;left:2529px;top:1224px;" width="34" height="30" viewBox="0 0 34 30"><ellipse cx="16.1" cy="12.9" rx="13.3" ry="11.1" fill="none" stroke="#44546F" stroke-width="3.2"/><path d="M21 22.5 L29 26.8 L26.2 19.5 Z" fill="#44546F" stroke="#44546F" stroke-width="1" stroke-linejoin="round"/><path d="M8.6 10.5 H24.3 M8.6 15.5 H15.6" stroke="#44546F" stroke-width="3" stroke-linecap="round"/></svg><div class="t" style="left:2569.50px;top:1225.48px;font-size:24px;line-height:24px;color:#44546F;font-weight:400;letter-spacing:0.600px;">1</div><div style="position:absolute;left:617px;top:1309px;width:28px;height:28px;box-sizing:border-box;border:3.5px solid #DCDFE4;border-radius:5px;background:#FAFBFC"></div><div class="t" style="left:676.20px;top:1311.10px;font-size:28px;line-height:28px;color:#283A5B;font-weight:400;letter-spacing:0.850px;">Automated tasks</div><div style="position:absolute;left:1299px;top:1304px;width:220px;height:40px;background:#E9F2FF;border-radius:6px"></div><svg style="position:absolute;left:1311px;top:1307px;" width="32" height="32" viewBox="0 0 32 32"><circle cx="16.2" cy="16.1" r="16" fill="#FFCC4D"/>
<path d="M8.3 18.8 H24.1 Q24.1 27 16.2 27 Q8.3 27 8.3 18.8 Z" fill="#664500"/>
<g transform="rotate(-12 8 7)"><path d="M8 14.5 C3 11 0.5 8.5 0.8 5.3 C1.2 2 5.5 1 8 4 C10.5 1 14.8 2 15.2 5.3 C15.5 8.5 13 11 8 14.5 Z" fill="#DD2E44"/></g>
<g transform="rotate(12 24.5 7)"><path d="M24.5 14.5 C19.5 11 17 8.5 17.3 5.3 C17.7 2 22 1 24.5 4 C27 1 31.3 2 31.7 5.3 C32 8.5 29.5 11 24.5 14.5 Z" fill="#DD2E44"/></g></svg><div class="t" style="left:1355.20px;top:1312.68px;font-size:24px;line-height:24px;color:#09326C;font-weight:400;letter-spacing:1.275px;-webkit-text-stroke:0.86px #09326C;">Delight users</div><div style="position:absolute;left:1727px;top:1304px;width:78px;height:40px;background:#F3F0FF;border-radius:6px"></div><div class="t" style="left:1735.00px;top:1312.68px;font-size:24px;line-height:24px;color:#352C63;font-weight:400;letter-spacing:1.470px;-webkit-text-stroke:0.86px #352C63;">Later</div><div style="position:absolute;left:1973px;top:1304px;width:48px;height:40px;background:#FFF4E5;border-radius:6px"></div><div class="t" style="left:1982.60px;top:1311.98px;font-size:24px;line-height:24px;color:#5F3811;font-weight:400;letter-spacing:2.490px;-webkit-text-stroke:0.47px #5F3811;">56</div><svg style="position:absolute;left:2287px;top:1313px;" width="28" height="20" viewBox="0 0 28 20"><path d="M3.7 13.8 L11.6 5.7 L16.7 10.5 L24.2 3.2" fill="none" stroke="#44546F" stroke-width="3.3" stroke-linecap="round" stroke-linejoin="round"/><circle cx="3.7" cy="13.8" r="2.8" fill="#44546F"/><circle cx="11.6" cy="5.7" r="2.8" fill="#44546F"/><circle cx="16.7" cy="10.5" r="2.8" fill="#44546F"/><circle cx="24.2" cy="3.2" r="2.8" fill="#44546F"/></svg><div class="t" style="left:2324.80px;top:1309.48px;font-size:24px;line-height:24px;color:#44546F;font-weight:400;letter-spacing:4.020px;">29</div><svg style="position:absolute;left:2529px;top:1308px;" width="34" height="30" viewBox="0 0 34 30"><ellipse cx="16.1" cy="12.9" rx="13.3" ry="11.1" fill="none" stroke="#A1A9B8" stroke-width="3.2"/><path d="M21 22.5 L29 26.8 L26.2 19.5 Z" fill="#A1A9B8" stroke="#A1A9B8" stroke-width="1" stroke-linejoin="round"/><path d="M8.6 10.5 H24.3 M8.6 15.5 H15.6" stroke="#A1A9B8" stroke-width="3" stroke-linecap="round"/></svg><div style="position:absolute;left:617px;top:1393px;width:28px;height:28px;box-sizing:border-box;border:3.5px solid #DCDFE4;border-radius:5px;background:#FAFBFC"></div><div class="t" style="left:675.20px;top:1395.10px;font-size:28px;line-height:28px;color:#283A5B;font-weight:400;letter-spacing:0.538px;">QR payment links</div><div style="position:absolute;left:1299px;top:1388px;width:214px;height:40px;background:#E9F2FF;border-radius:6px"></div><svg style="position:absolute;left:1311px;top:1391px;" width="32" height="32" viewBox="0 0 32 32"><g transform="rotate(45 16.2 16.8)"><rect x="10.7" y="-1" width="11" height="35.5" rx="5.5" fill="#8899A6"/>
<rect x="12.7" y="0.5" width="7" height="31.5" rx="3.5" fill="#CCD6DD"/>
<path d="M12.7 9 H19.7 V28.5 A3.5 3.5 0 0 1 12.7 28.5 Z" fill="#5DD07B"/>
<ellipse cx="16.2" cy="0" rx="5.5" ry="1.8" fill="#E1E8ED" stroke="#8899A6" stroke-width="1.6"/>
<circle cx="15" cy="15" r="1" fill="#2EA84F"/><circle cx="17.5" cy="19.5" r="1.1" fill="#2EA84F"/><circle cx="15.2" cy="24" r="1" fill="#2EA84F"/><circle cx="17.3" cy="27.5" r="1.3" fill="#2EA84F"/></g></svg><div class="t" style="left:1355.20px;top:1396.68px;font-size:24px;line-height:24px;color:#09326C;font-weight:400;letter-spacing:1.650px;-webkit-text-stroke:0.86px #09326C;">Differentiate</div><div style="position:absolute;left:1727px;top:1388px;width:78px;height:40px;background:#F3F0FF;border-radius:6px"></div><div class="t" style="left:1735.00px;top:1396.68px;font-size:24px;line-height:24px;color:#352C63;font-weight:400;letter-spacing:1.470px;-webkit-text-stroke:0.86px #352C63;">Later</div><div style="position:absolute;left:1973px;top:1388px;width:48px;height:40px;background:#FFF4E5;border-radius:6px"></div><div class="t" style="left:1982.60px;top:1395.98px;font-size:24px;line-height:24px;color:#5F3811;font-weight:400;letter-spacing:2.490px;-webkit-text-stroke:0.47px #5F3811;">46</div><svg style="position:absolute;left:2287px;top:1397px;" width="28" height="20" viewBox="0 0 28 20"><path d="M3.7 13.8 L11.6 5.7 L16.7 10.5 L24.2 3.2" fill="none" stroke="#8590A2" stroke-width="3.3" stroke-linecap="round" stroke-linejoin="round"/><circle cx="3.7" cy="13.8" r="2.8" fill="#8590A2"/><circle cx="11.6" cy="5.7" r="2.8" fill="#8590A2"/><circle cx="16.7" cy="10.5" r="2.8" fill="#8590A2"/><circle cx="24.2" cy="3.2" r="2.8" fill="#8590A2"/></svg><svg style="position:absolute;left:2529px;top:1392px;" width="34" height="30" viewBox="0 0 34 30"><ellipse cx="16.1" cy="12.9" rx="13.3" ry="11.1" fill="none" stroke="#44546F" stroke-width="3.2"/><path d="M21 22.5 L29 26.8 L26.2 19.5 Z" fill="#44546F" stroke="#44546F" stroke-width="1" stroke-linejoin="round"/><path d="M8.6 10.5 H24.3 M8.6 15.5 H15.6" stroke="#44546F" stroke-width="3" stroke-linecap="round"/></svg><div class="t" style="left:2570.50px;top:1393.48px;font-size:24px;line-height:24px;color:#44546F;font-weight:400;letter-spacing:4.380px;">48</div><div style="position:absolute;left:617px;top:1477px;width:28px;height:28px;box-sizing:border-box;border:3.5px solid #DCDFE4;border-radius:5px;background:#FAFBFC"></div><div class="t" style="left:674.20px;top:1479.10px;font-size:28px;line-height:28px;color:#283A5B;font-weight:400;letter-spacing:0.839px;">Managed investment</div><div style="position:absolute;left:1299px;top:1472px;width:230px;height:40px;background:#E9F2FF;border-radius:6px"></div><svg style="position:absolute;left:1311px;top:1475px;" width="32" height="32" viewBox="0 0 32 32"><path d="M16.4 1.9 C22 1.9 26.9 10 26.9 19.5 C26.9 27 22 32 16.4 32 C10.8 32 5.9 27 5.9 19.5 C5.9 10 10.8 1.9 16.4 1.9 Z" fill="#E3A989"/>
<path d="M15.9 1.9 C21 1.9 25.3 10 25.3 19 C25.3 26 21 30.3 15.9 30.3 C10.8 30.3 5.9 26 5.9 19 C5.9 10 10.8 1.9 15.9 1.9 Z" fill="#F6DFD0"/></svg><div class="t" style="left:1355.20px;top:1480.68px;font-size:24px;line-height:24px;color:#09326C;font-weight:400;letter-spacing:1.470px;-webkit-text-stroke:0.86px #09326C;">New products</div><div style="position:absolute;left:1727px;top:1472px;width:78px;height:40px;background:#F3F0FF;border-radius:6px"></div><div class="t" style="left:1735.00px;top:1480.68px;font-size:24px;line-height:24px;color:#352C63;font-weight:400;letter-spacing:1.470px;-webkit-text-stroke:0.86px #352C63;">Later</div><div style="position:absolute;left:1973px;top:1472px;width:48px;height:40px;background:#FFF4E5;border-radius:6px"></div><div class="t" style="left:1982.60px;top:1479.98px;font-size:24px;line-height:24px;color:#5F3811;font-weight:400;letter-spacing:2.490px;-webkit-text-stroke:0.47px #5F3811;">36</div><svg style="position:absolute;left:2287px;top:1481px;" width="28" height="20" viewBox="0 0 28 20"><path d="M3.7 13.8 L11.6 5.7 L16.7 10.5 L24.2 3.2" fill="none" stroke="#8590A2" stroke-width="3.3" stroke-linecap="round" stroke-linejoin="round"/><circle cx="3.7" cy="13.8" r="2.8" fill="#8590A2"/><circle cx="11.6" cy="5.7" r="2.8" fill="#8590A2"/><circle cx="16.7" cy="10.5" r="2.8" fill="#8590A2"/><circle cx="24.2" cy="3.2" r="2.8" fill="#8590A2"/></svg><svg style="position:absolute;left:2529px;top:1476px;" width="34" height="30" viewBox="0 0 34 30"><ellipse cx="16.1" cy="12.9" rx="13.3" ry="11.1" fill="none" stroke="#A1A9B8" stroke-width="3.2"/><path d="M21 22.5 L29 26.8 L26.2 19.5 Z" fill="#A1A9B8" stroke="#A1A9B8" stroke-width="1" stroke-linejoin="round"/><path d="M8.6 10.5 H24.3 M8.6 15.5 H15.6" stroke="#A1A9B8" stroke-width="3" stroke-linecap="round"/></svg><div style="position:absolute;left:617px;top:1561px;width:28px;height:28px;box-sizing:border-box;border:3.5px solid #DCDFE4;border-radius:5px;background:#FAFBFC"></div><div class="t" style="left:675.20px;top:1563.10px;font-size:28px;line-height:28px;color:#283A5B;font-weight:400;letter-spacing:0.819px;">Self service: savings accounts</div><div style="position:absolute;left:1299px;top:1556px;width:203px;height:40px;background:#E9F2FF;border-radius:6px"></div><svg style="position:absolute;left:1311px;top:1559px;" width="32" height="32" viewBox="0 0 32 32"><path d="M1.5 31.5 Q0.5 20 4 12 Q7 4 12 1.5 Q15 0.5 18 3 L21.5 5.5 Q21.8 8.5 19 9 L19.5 10.5 Q18 11.8 15.5 10.8 L12.3 12 Q11 16 11.6 19.5 Q15 16.2 22 16.5 Q31.5 17.5 31.8 25 Q31.8 32.5 22 32.8 Q12 33 1.5 31.5 Z" fill="#FFDC5D"/>
<path d="M13 25.5 Q20 31 27.2 24.5" fill="none" stroke="#EF9645" stroke-width="1.7" stroke-linecap="round"/>
<path d="M14.5 5.5 Q16.5 7.8 18.5 6.3" fill="none" stroke="#EF9645" stroke-width="1.2" stroke-linecap="round"/></svg><div class="t" style="left:1356.20px;top:1564.68px;font-size:24px;line-height:24px;color:#09326C;font-weight:400;letter-spacing:1.143px;-webkit-text-stroke:0.86px #09326C;">Self service</div><div style="position:absolute;left:1727px;top:1556px;width:122px;height:40px;background:#F1F2F4;border-radius:6px"></div><div class="t" style="left:1737.00px;top:1564.68px;font-size:24px;line-height:24px;color:#172B4D;font-weight:400;letter-spacing:1.290px;-webkit-text-stroke:0.86px #172B4D;">Won&#8217;t do</div><div style="position:absolute;left:1973px;top:1556px;width:48px;height:40px;background:#FFF4E5;border-radius:6px"></div><div class="t" style="left:1982.60px;top:1563.98px;font-size:24px;line-height:24px;color:#5F3811;font-weight:400;letter-spacing:2.490px;-webkit-text-stroke:0.47px #5F3811;">55</div><svg style="position:absolute;left:2287px;top:1565px;" width="28" height="20" viewBox="0 0 28 20"><path d="M3.7 13.8 L11.6 5.7 L16.7 10.5 L24.2 3.2" fill="none" stroke="#8590A2" stroke-width="3.3" stroke-linecap="round" stroke-linejoin="round"/><circle cx="3.7" cy="13.8" r="2.8" fill="#8590A2"/><circle cx="11.6" cy="5.7" r="2.8" fill="#8590A2"/><circle cx="16.7" cy="10.5" r="2.8" fill="#8590A2"/><circle cx="24.2" cy="3.2" r="2.8" fill="#8590A2"/></svg><svg style="position:absolute;left:2529px;top:1560px;" width="34" height="30" viewBox="0 0 34 30"><ellipse cx="16.1" cy="12.9" rx="13.3" ry="11.1" fill="none" stroke="#A1A9B8" stroke-width="3.2"/><path d="M21 22.5 L29 26.8 L26.2 19.5 Z" fill="#A1A9B8" stroke="#A1A9B8" stroke-width="1" stroke-linejoin="round"/><path d="M8.6 10.5 H24.3 M8.6 15.5 H15.6" stroke="#A1A9B8" stroke-width="3" stroke-linecap="round"/></svg><div style="position:absolute;left:1704px;top:243px;width:1096px;height:576px;background:#fff;border-radius:8px;box-shadow:0 8px 16px rgba(9,30,66,0.15),0 0 12px rgba(9,30,66,0.06),0 0 0 1px rgba(9,30,66,0.10)"></div><div class="t" style="left:1748.00px;top:293.80px;font-size:28px;line-height:28px;color:#0055CC;font-weight:400;letter-spacing:1.205px;-webkit-text-stroke:1.00px #0055CC;">Share</div><div class="t" style="left:1861.00px;top:293.10px;font-size:28px;line-height:28px;color:#44546F;font-weight:400;letter-spacing:1.448px;-webkit-text-stroke:1.00px #44546F;">Export</div><div style="position:absolute;left:1749px;top:337px;width:1003px;height:4px;background:#E8EAEE;border-radius:2px"></div><div style="position:absolute;left:1749px;top:337px;width:79px;height:4px;background:#0055CC;border-radius:2px"></div><div style="position:absolute;left:1752px;top:373px;width:1000px;height:180px;background:#F3F4F6"></div><svg style="position:absolute;left:1779px;top:394px;" width="26" height="34" viewBox="0 0 26 34"><path d="M8 13 V6.9 A5 5 0 0 1 18 6.9 V8.2" fill="none" stroke="#44546F" stroke-width="3.5" stroke-linecap="round"/><rect x="1.2" y="12.5" width="23.4" height="19.5" rx="3.5" fill="#44546F"/><circle cx="12.9" cy="22" r="3.4" fill="#F3F4F6"/></svg><div class="t" style="left:1826.80px;top:397.90px;font-size:28px;line-height:28px;color:#44546F;font-weight:400;letter-spacing:0.881px;"><b style="font-weight:400;-webkit-text-stroke:1px #44546F">Open access:</b> All logged Jira users on xyz.atlassian.net can open</div><div class="t" style="left:1826.80px;top:437.40px;font-size:28px;line-height:28px;color:#44546F;font-weight:400;letter-spacing:0.647px;">this view</div><div class="t" style="left:1824.80px;top:490.10px;font-size:28px;line-height:28px;color:#0C66E4;font-weight:400;letter-spacing:0.990px;">Manage access</div><div style="position:absolute;left:1752px;top:585px;width:80px;height:40px;background:#626F86;border-radius:20px"></div><div style="position:absolute;left:1756px;top:589px;width:32px;height:32px;background:#fff;border-radius:16px"></div><svg style="position:absolute;left:1802px;top:597px;" width="16" height="16" viewBox="0 0 16 16"><path d="M2.5 2.5 L13.5 13.5 M13.5 2.5 L2.5 13.5" stroke="#fff" stroke-width="3.6" stroke-linecap="round"/></svg><div class="t" style="left:1857.00px;top:592.10px;font-size:28px;line-height:28px;color:#172B4D;font-weight:400;letter-spacing:0.700px;">Share view in full screen</div><div style="position:absolute;left:1752px;top:663px;width:1000px;height:4px;background:#E8EAEE;border-radius:2px"></div><div style="position:absolute;left:1752px;top:707px;width:230px;height:64px;background:#0C66E4;border-radius:6px"></div><svg style="position:absolute;left:1780.7px;top:718.8px;" width="40" height="40" viewBox="0 0 40 40"><g transform="rotate(-45 20 20)" fill="none" stroke="#fff" stroke-width="3.2" stroke-linecap="round"><path d="M24.5 15.5 H31.5 A4.5 4.5 0 0 1 31.5 24.5 H21.0 A4.5 4.5 0 0 1 17.82 16.82"/><path d="M15.5 24.5 H8.5 A4.5 4.5 0 0 1 8.5 15.5 H19.0 A4.5 4.5 0 0 1 22.18 23.18"/></g></svg><div class="t" style="left:1833.00px;top:726.60px;font-size:28px;line-height:28px;color:#fff;font-weight:400;letter-spacing:0.950px;-webkit-text-stroke:0.55px #fff;">Copy link</div></div>
</body></html>
